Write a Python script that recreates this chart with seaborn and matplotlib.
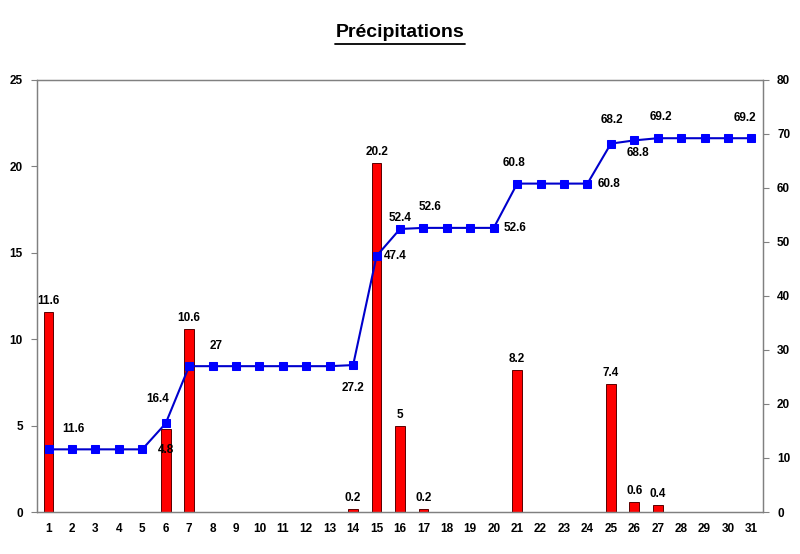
import numpy as np
import pandas as pd
import seaborn as sns
import matplotlib.pyplot as plt
from matplotlib.ticker import MultipleLocator, FixedLocator

# --- DATA ---
days = list(range(1, 32))
rain = [11.6, 0, 0, 0, 0, 4.8, 10.6, 0, 0, 0, 0, 0, 0, 0.2, 20.2, 5, 0.2, 0, 0, 0,
        8.2, 0, 0, 0, 7.4, 0.6, 0.4, 0, 0, 0, 0]
cumul = [11.6, 11.6, 11.6, 11.6, 11.6, 16.4, 27, 27, 27, 27, 27, 27, 27, 27.2, 47.4,
         52.4, 52.6, 52.6, 52.6, 52.6, 60.8, 60.8, 60.8, 60.8, 68.2, 68.8, 69.2, 69.2,
         69.2, 69.2, 69.2]

# which cumulative points carry a label, and where (pixel offsets)
cumul_label_days = [2, 6, 8, 14, 15, 16, 17, 20, 21, 24, 25, 26, 27, 31]
cumul_label_offsets = [(1, 20), (-8, 24), (4, 20), (0, -23), (17, 0), (0, 11), (7, 21),
                       (20, 0), (-3, 21), (20, 0), (1, 24), (4, -13), (3, 21), (-7, 20)]

df = pd.DataFrame({"Jour": days, "Pluie": rain, "Cumul": cumul})

sns.set_style("white")
plt.rcParams['font.family'] = ['Liberation Sans', 'DejaVu Sans']
plt.rcParams['text.color'] = 'black'
plt.rcParams['xtick.color'] = 'black'
plt.rcParams['ytick.color'] = 'black'

fig = plt.figure(figsize=(8, 5.54), dpi=100)
ax = fig.add_axes([0.046, 0.0758, 0.908, 0.78])

sns.barplot(data=df, x="Jour", y="Pluie", native_scale=True, width=0.42,
            color="#ff0000", edgecolor="#5a0000", linewidth=0.7, saturation=1,
            ax=ax, zorder=2)

ax.set_xlim(0.5, 31.5)
ax.set_ylim(0, 25)
ax.yaxis.set_major_locator(MultipleLocator(5))
ax.set_xticks(days)
ax.set_xticklabels([str(d) for d in days])
ax.xaxis.set_minor_locator(FixedLocator(np.arange(0.5, 32, 1)))
ax.tick_params(axis='x', which='major', length=0, pad=8, labelsize=8.5)
ax.tick_params(axis='x', which='minor', length=5, width=0.8, color='#808080', direction='out')
ax.tick_params(axis='y', length=4, width=0.8, color='#808080', direction='out',
               labelsize=8.5, pad=6)
for lbl in ax.get_xticklabels() + ax.get_yticklabels():
    lbl.set_fontweight('bold')
ax.set_xlabel("")
ax.set_ylabel("")

# bar value labels
for d, v in zip(days, rain):
    if v > 0:
        dy = -21 if d == 6 else 11
        ax.annotate(f"{v:g}", (d, v), xytext=(0, dy), textcoords='offset pixels',
                    ha='center', va='center', fontsize=8.5, fontweight='bold', zorder=5)

ax2 = ax.twinx()
sns.lineplot(data=df, x="Jour", y="Cumul", color="#0000cc", linewidth=1.5,
             marker='s', markersize=6, markerfacecolor="#0000ff",
             markeredgecolor="#0000ff", ax=ax2, zorder=3)
ax2.set_ylim(0, 80)
ax2.yaxis.set_major_locator(MultipleLocator(10))
ax2.tick_params(axis='y', length=4, width=0.8, color='#808080', direction='out',
                labelsize=8.5, pad=6)
for lbl in ax2.get_yticklabels():
    lbl.set_fontweight('bold')
ax2.set_ylabel("")
ax2.set_xlabel("")

for d, (ox, oy) in zip(cumul_label_days, cumul_label_offsets):
    v = cumul[d - 1]
    ha = 'left' if oy == 0 else 'center'
    if oy == 0:
        ox = ox - 10
    ax2.annotate(f"{v:g}", (d, v), xytext=(ox, oy), textcoords='offset pixels',
                 ha=ha, va='center', fontsize=8.5, fontweight='bold')

for a in (ax, ax2):
    for s in a.spines.values():
        s.set_color('#808080')
        s.set_linewidth(0.9)
    a.grid(False)

fig.text(0.5, 0.942, "Précipitations", ha='center', va='center',
         fontsize=14, fontweight='bold')
fig.add_artist(plt.Line2D([0.419, 0.581], [0.921, 0.921], color='black', linewidth=1.3))

fig.savefig("out.png", dpi=100)
